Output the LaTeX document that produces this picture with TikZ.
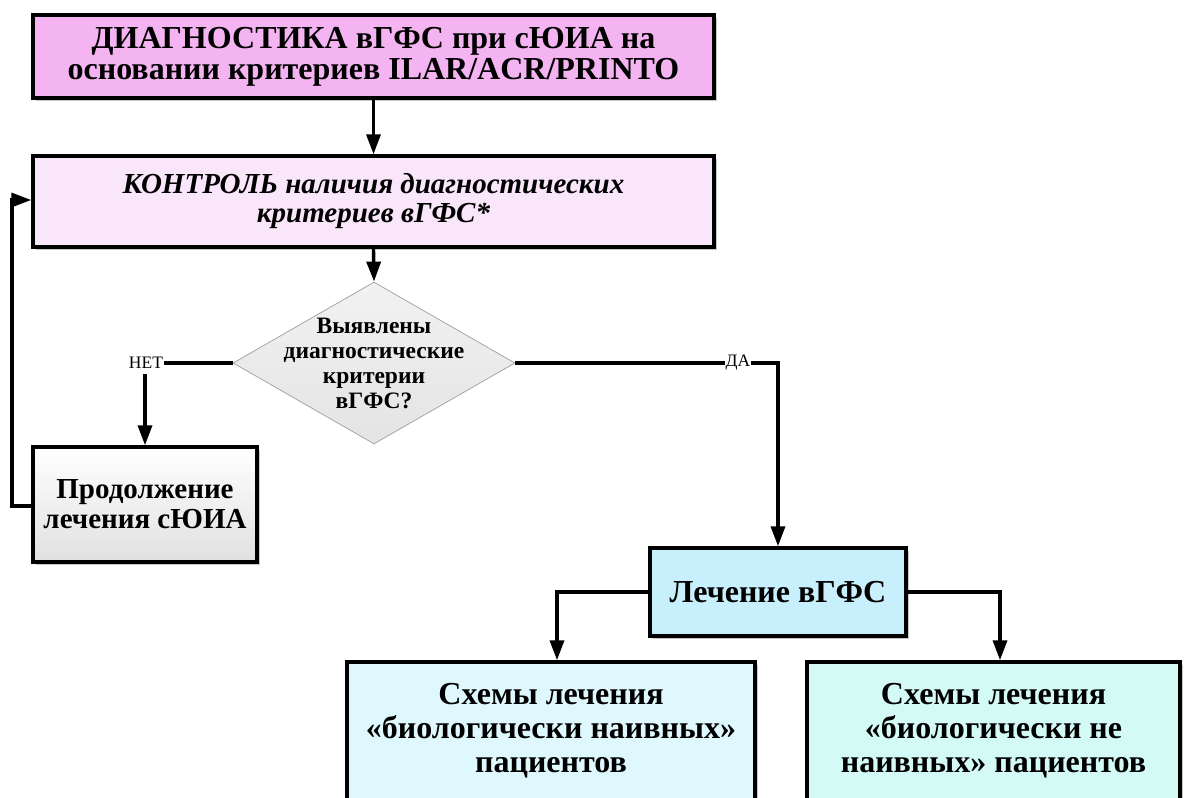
\documentclass[tikz,border=0pt]{standalone}
\usepackage{fontspec}
\setmainfont{Liberation Serif}
\usetikzlibrary{arrows.meta,shapes.geometric,shadows}
\definecolor{diagpink}{HTML}{F4B4F2}
\definecolor{ctrlpink}{HTML}{FAE6FA}
\definecolor{rhombgray}{HTML}{E4E4E4}
\definecolor{treatblue}{HTML}{C8F0FC}
\definecolor{naivecyan}{HTML}{DEF8FE}
\definecolor{expteal}{HTML}{D4FAF6}
\tikzset{
  x=1pt, y=-1pt,
  box/.style={draw=black, line width=3.4pt, align=center, inner sep=0pt,
    font=\bfseries\fontsize{32}{34}\selectfont,
    drop shadow={shadow xshift=2.5pt, shadow yshift=-3pt, opacity=0.22, fill=black}},
  conn/.style={line width=3.4pt},
  arr/.style={conn, -{Triangle[length=20pt,width=14pt]}},
  lbl/.style={inner sep=1pt, font=\fontsize{17.5}{19}\selectfont}
}
\begin{document}
\begin{tikzpicture}
\useasboundingbox (0,0) rectangle (1184,798);
\clip (0,0) rectangle (1184,798);

% main diagnostic chain
\node[box, fill=diagpink, minimum width=681pt, minimum height=83pt,
  font=\bfseries\fontsize{32}{31}\selectfont] (diag) at (373.5,56.5)
  {ДИАГНОСТИКА вГФС при сЮИА на\\основании критериев ILAR/ACR/PRINTO};
\node[box, fill=ctrlpink, minimum width=681pt, minimum height=91pt,
  font=\bfseries\itshape\fontsize{29}{29}\selectfont] (ctrl) at (373.5,201.5)
  {КОНТРОЛЬ наличия диагностических\\критериев вГФС*};
\node[diamond, draw=gray!70, line width=0.8pt, inner sep=0pt, aspect=1.74,
  minimum width=282pt, minimum height=162pt,
  top color=rhombgray!50, bottom color=rhombgray] (chk) at (374,363) {};
\node[align=center, inner sep=0pt, font=\bfseries\fontsize{23.5}{25}\selectfont]
  (chktext) at (chk.center) {Выявлены\\диагностические\\критерии\\вГФС?};

% "no" branch
\node[box, top color=white, bottom color=black!12, minimum width=224pt, minimum height=115pt,
  font=\bfseries\fontsize{29}{30}\selectfont] (cont) at (145,504.5)
  {Продолжение\\лечения сЮИА};

% "yes" branch
\node[box, fill=treatblue, minimum width=256pt, minimum height=88pt] (treat) at (778,592)
  {Лечение вГФС};
\node[box, fill=naivecyan, minimum width=408pt, minimum height=138pt] (naive) at (551,731)
  {Схемы лечения\\«биологически наивных»\\пациентов};
\node[box, fill=expteal, minimum width=373pt, minimum height=138pt] (exper) at (993.5,731)
  {Схемы лечения\\«биологически не\\наивных» пациентов};

% branch labels
\node[lbl] (no) at (146,363) {НЕТ};
\node[lbl] (yes) at (738,363) {ДА};

% routing points
\coordinate (loopb) at (12,506);
\coordinate (loopt) at (12,200);
\coordinate (yescorner) at (778,363);
\coordinate (lcorner) at (557,592);
\coordinate (rcorner) at (1000,592);

% connectors
\draw[arr] (diag.south) -- (ctrl.north);
\draw[arr] (ctrl.south) -- (chk.north);
\draw[conn] (chk.west) -- (no.east);
\draw[arr] ([yshift=-4pt]no.south -| cont.north) -- (cont.north);
\draw[arr] (cont.west |- loopb) -- (loopb) -- (loopt) -- (ctrl.west |- loopt);
\draw[conn] (chk.east) -- (yes.west);
\draw[arr] (yes.east) -- (yescorner) -- (treat.north);
\draw[arr] (treat.west |- lcorner) -- (lcorner) -- (lcorner |- naive.north);
\draw[arr] (treat.east |- rcorner) -- (rcorner) -- (rcorner |- exper.north);
\end{tikzpicture}
\end{document}
